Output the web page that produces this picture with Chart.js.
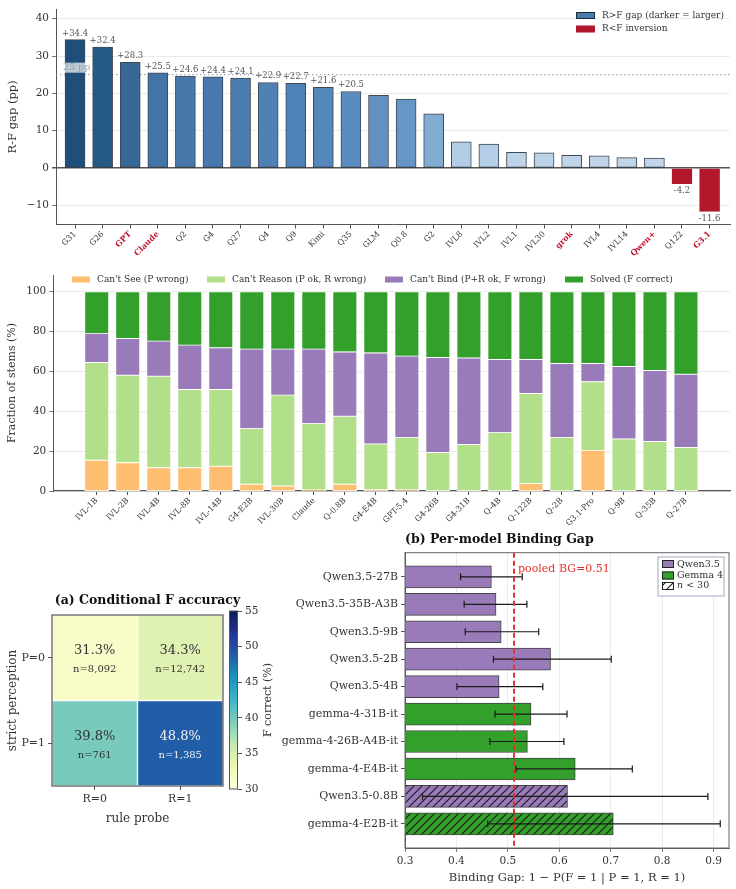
<!DOCTYPE html>
<html>
<head>
<meta charset="utf-8">
<script src="https://cdn.jsdelivr.net/npm/chart.js@4.4.1/dist/chart.umd.min.js"></script>
<style>
  body { margin: 0; background: #fff; }
  #page { position: relative; width: 736px; height: 889px; overflow: hidden; }
  canvas { position: absolute; }
</style>
</head>
<body>
<div id="page">
  <canvas id="gapChart" width="736" height="262" style="left:0;top:0"></canvas>
  <canvas id="stemChart" width="736" height="276" style="left:0;top:262px"></canvas>
  <canvas id="bgChart" width="466" height="359" style="left:270px;top:530px"></canvas>
  <canvas id="heatChart" width="250" height="245" style="left:0;top:585px"></canvas>
  <canvas id="cbarChart" width="70" height="200" style="left:226px;top:600px"></canvas>
</div>
<script>
// ---- data ----
const gapModels = ['G31', 'G26', 'GPT', 'Claude', 'Q2', 'G4', 'Q27', 'Q4', 'Q9', 'Kimi', 'Q35', 'GLM',
    'Q0.8', 'G2', 'IVL8', 'IVL2', 'IVL1', 'IVL30', 'grok', 'IVL4', 'IVL14', 'Qwen+', 'Q122', 'G3.1'];
const gapValues = [34.4, 32.4, 28.3, 25.5, 24.6, 24.4, 24.1, 22.9, 22.7, 21.6, 20.5, 19.5,
    18.5, 14.5, 7.0, 6.4, 4.2, 4.1, 3.4, 3.3, 2.8, 2.7, -4.2, -11.6];
const gapHighlighted = ['GPT', 'Claude', 'grok', 'Qwen+', 'G3.1'];
const gapThreshold = 25;
const gapTicks = [-10, 0, 10, 20, 30, 40];

const stemModels = ['IVL-1B', 'IVL-2B', 'IVL-4B', 'IVL-8B', 'IVL-14B', 'G4-E2B', 'IVL-30B', 'Claude', 'Q-0.8B', 'G4-E4B',
    'GPT-5.4', 'G4-26B', 'G4-31B', 'Q-4B', 'Q-122B', 'Q-2B', 'G3.1-Pro', 'Q-9B', 'Q-35B', 'Q-27B'];
const cantSee = [15.4, 14.2, 11.7, 11.7, 12.4, 3.4, 2.5, 0.5, 3.4, 0.8, 0.7, 0, 0, 0, 3.7, 0, 20.4, 0, 0, 0];
const cantReason = [49.1, 43.9, 45.9, 39.2, 38.5, 27.9, 45.6, 33.3, 34.1, 22.8, 26.1, 19.3, 23.3, 29.3, 45.2, 26.8, 34.4, 26.1, 24.8, 21.8];
const cantBind = [14.6, 18.4, 17.6, 22.3, 21.0, 39.9, 23.1, 37.4, 32.3, 45.7, 40.9, 47.7, 43.4, 36.7, 17.1, 37.2, 9.2, 36.4, 35.7, 36.8];
const solved = [20.9, 23.5, 24.8, 26.8, 28.1, 28.8, 28.8, 28.8, 30.2, 30.7, 32.3, 33.0, 33.3, 34.0, 34.0, 36.0, 36.0, 37.5, 39.5, 41.4];
const stemTicks = [0, 20, 40, 60, 80, 100];

const hmRows = ['P=0', 'P=1'];
const hmCols = ['R=0', 'R=1'];
const hmAcc = [[31.3, 34.3], [39.8, 48.8]];
const hmN = [[8092, 12742], [761, 1385]];
const cbarTicks = [30, 35, 40, 45, 50, 55];

const bgModels = ['Qwen3.5-27B', 'Qwen3.5-35B-A3B', 'Qwen3.5-9B', 'Qwen3.5-2B', 'Qwen3.5-4B',
    'gemma-4-31B-it', 'gemma-4-26B-A4B-it', 'gemma-4-E4B-it', 'Qwen3.5-0.8B', 'gemma-4-E2B-it'];
const bgFamily = ['qwen', 'qwen', 'qwen', 'qwen', 'qwen', 'gemma', 'gemma', 'gemma', 'qwen', 'gemma'];
const bgValues = [0.468, 0.477, 0.487, 0.583, 0.483, 0.545, 0.538, 0.631, 0.616, 0.705];
const bgLow = [0.408, 0.415, 0.417, 0.472, 0.401, 0.475, 0.465, 0.516, 0.334, 0.461];
const bgHigh = [0.528, 0.537, 0.560, 0.701, 0.568, 0.615, 0.609, 0.742, 0.889, 0.913];
const bgSmallN = [false, false, false, false, false, false, false, false, true, true];
const bgPooled = 0.512;
const bgTicks = [0.3, 0.4, 0.5, 0.6, 0.7, 0.8, 0.9];

// ---- styles ----
const FONT = 'DejaVu Serif';
const TXT = '#333';
const AXIS = '#555';
const GRID = '#e6e6e6';
const RED = '#b2182b';
const PURPLE = '#9a7bb9';
const GREEN = '#33a02c';

Chart.defaults.font.family = FONT;
Chart.defaults.color = TXT;
Chart.defaults.animation = false;
Chart.defaults.plugins.legend.display = false;
Chart.defaults.plugins.tooltip.enabled = false;

function lerpStops(stops, v) {
    if (v <= stops[0][0]) return stops[0][1];
    for (let i = 1; i < stops.length; i++) {
        if (v <= stops[i][0]) {
            const [a, ca] = stops[i - 1], [b, cb] = stops[i];
            const t = (v - a) / (b - a);
            return ca.map((c, k) => Math.round(c + (cb[k] - c) * t));
        }
    }
    return stops[stops.length - 1][1];
}
const rgb = c => `rgb(${c[0]},${c[1]},${c[2]})`;

// blues shading for the gap bars (darker = larger)
const blueStops = [[2.5, [194, 214, 234]], [7, [179, 205, 230]], [14.5, [130, 172, 210]], [18.5, [101, 150, 198]],
    [21.6, [84, 135, 187]], [24, [74, 123, 176]], [28.3, [55, 104, 150]], [32.4, [38, 90, 134]], [34.4, [31, 78, 122]]];
// YlGnBu colormap
const ylgnbu = [[0, [255, 255, 217]], [0.125, [237, 248, 177]], [0.25, [199, 233, 180]], [0.375, [127, 205, 187]],
    [0.5, [65, 182, 196]], [0.625, [29, 145, 192]], [0.75, [34, 94, 168]], [0.875, [37, 52, 148]], [1, [8, 29, 88]]];

function hatchPattern(color) {
    const c = document.createElement('canvas');
    c.width = 8; c.height = 8;
    const g = c.getContext('2d');
    g.fillStyle = color; g.fillRect(0, 0, 8, 8);
    g.strokeStyle = '#1a1a1a'; g.lineWidth = 1.1;
    g.beginPath();
    g.moveTo(-1, 9); g.lineTo(9, -1);
    g.moveTo(-1, 1); g.lineTo(1, -1);
    g.moveTo(7, 9); g.lineTo(9, 7);
    g.stroke();
    return g.createPattern(c, 'repeat');
}

function patch(ctx, x, y, w, h, fill, stroke) {
    ctx.fillStyle = fill;
    ctx.fillRect(x, y, w, h);
    if (stroke) { ctx.strokeStyle = stroke; ctx.lineWidth = 1; ctx.strokeRect(x + 0.5, y + 0.5, w - 1, h - 1); }
}

// ---- (top) R-F gap ----
const gapPlugin = {
    id: 'gapExtras',
    beforeDatasetsDraw(chart) {
        const { ctx, chartArea, scales: { y } } = chart;
        const py = y.getPixelForValue(gapThreshold);
        ctx.save();
        ctx.strokeStyle = '#8d9aa7'; ctx.lineWidth = 1; ctx.setLineDash([1.5, 2.5]);
        ctx.beginPath(); ctx.moveTo(chartArea.left, py); ctx.lineTo(chartArea.right, py); ctx.stroke();
        ctx.restore();
    },
    afterDatasetsDraw(chart) {
        const { ctx, chartArea, scales: { y } } = chart;
        const meta = chart.getDatasetMeta(0);
        ctx.save();
        ctx.font = `8.5px ${FONT}`; ctx.fillStyle = '#555'; ctx.textAlign = 'center';
        meta.data.forEach((bar, i) => {
            const v = gapValues[i];
            if (v >= 20) { ctx.textBaseline = 'bottom'; ctx.fillText('+' + v.toFixed(1), bar.x, bar.y - 2); }
            else if (v < 0) { ctx.textBaseline = 'top'; ctx.fillText(v.toFixed(1), bar.x, bar.y + 3); }
        });
        // threshold label
        const py = y.getPixelForValue(gapThreshold);
        const x0 = chartArea.left + 7;
        ctx.font = `9.5px ${FONT}`;
        const w = ctx.measureText(gapThreshold + ' pp').width;
        ctx.fillStyle = 'rgba(255,255,255,0.7)'; ctx.fillRect(x0 - 1, py - 12, w + 2, 10);
        ctx.fillStyle = '#95a3b0'; ctx.textAlign = 'left'; ctx.textBaseline = 'bottom';
        ctx.fillText(gapThreshold + ' pp', x0, py - 2.5);
        // legend
        ctx.font = `9px ${FONT}`; ctx.fillStyle = TXT; ctx.textBaseline = 'middle';
        patch(ctx, 576, 12, 19, 7, '#4a7bb0', '#1e2a36');
        ctx.fillStyle = TXT; ctx.fillText('R>F gap (darker = larger)', 602, 15.7);
        patch(ctx, 576, 25.5, 19, 7, RED);
        ctx.fillStyle = TXT; ctx.fillText('R<F inversion', 602, 29);
        ctx.restore();
    }
};

new Chart(document.getElementById('gapChart'), {
    type: 'bar',
    data: {
        datasets: [{
            data: gapValues.map((v, i) => ({ x: i, y: v })),
            backgroundColor: gapValues.map(v => v < 0 ? RED : rgb(lerpStops(blueStops, v))),
            borderColor: gapValues.map(v => v < 0 ? RED : 'rgba(30,40,50,0.85)'),
            borderWidth: 1,
            borderSkipped: false,
            barThickness: 20
        }]
    },
    options: {
        responsive: false,
        layout: { padding: { top: 7, right: 6, left: 0, bottom: 0 } },
        scales: {
            x: {
                type: 'linear', offset: false, min: -0.69, max: 23.74,
                afterBuildTicks: s => { s.ticks = gapModels.map((_, i) => ({ value: i })); },
                afterFit: s => { s.height = 37.5; },
                grid: { drawOnChartArea: false, offset: false, tickLength: 4, color: AXIS },
                border: { color: AXIS },
                ticks: {
                    autoSkip: false, minRotation: 45, maxRotation: 45, padding: 1,
                    callback: v => gapModels[v],
                    color: c => gapHighlighted.includes(gapModels[c.index]) ? '#c0142c' : TXT,
                    font: c => ({ family: FONT, size: 8, weight: gapHighlighted.includes(gapModels[c.index]) ? 'bold' : 'normal' })
                }
            },
            y: {
                min: -15.1, max: 42.5,
                afterBuildTicks: s => { s.ticks = gapTicks.map(v => ({ value: v })); },
                afterFit: s => { s.width = 56; },
                grid: {
                    color: c => c.tick && c.tick.value === 0 ? AXIS : GRID,
                    lineWidth: c => c.tick && c.tick.value === 0 ? 1.5 : 0.8,
                    tickColor: AXIS, tickLength: 4
                },
                border: { color: AXIS },
                ticks: { font: { size: 10.5 }, color: TXT, callback: v => v < 0 ? '\u2212' + Math.abs(v) : v },
                title: { display: true, text: 'R-F gap (pp)', font: { size: 11.5 }, padding: { top: 6, bottom: 2 } }
            }
        }
    },
    plugins: [gapPlugin]
});

// ---- (middle) failure decomposition ----
const stemLegend = {
    id: 'stemLegend',
    afterDraw(chart) {
        const ctx = chart.ctx;
        const items = [['Can\'t See (P wrong)', '#fdbf6f', 72, 97], ['Can\'t Reason (P ok, R wrong)', '#b2df8a', 207, 232],
            ['Can\'t Bind (P+R ok, F wrong)', PURPLE, 385, 410], ['Solved (F correct)', GREEN, 565, 590]];
        ctx.save();
        ctx.font = `9px ${FONT}`; ctx.textBaseline = 'middle'; ctx.textAlign = 'left';
        items.forEach(([label, color, px, tx]) => {
            patch(ctx, px, 14.5, 18, 6, color);
            ctx.fillStyle = TXT; ctx.fillText(label, tx, 17.5);
        });
        ctx.restore();
    }
};

const stemSeries = [[cantSee, '#fdbf6f'], [cantReason, '#b2df8a'], [cantBind, PURPLE], [solved, GREEN]];
new Chart(document.getElementById('stemChart'), {
    type: 'bar',
    data: {
        datasets: stemSeries.map(([arr, color]) => ({
            data: arr.map((v, i) => ({ x: i, y: v })),
            backgroundColor: color,
            borderColor: '#fff',
            borderWidth: 0.8,
            borderSkipped: false,
            barThickness: 24
        }))
    },
    options: {
        responsive: false,
        layout: { padding: { top: 13, right: 6, left: 0, bottom: 0 } },
        scales: {
            x: {
                type: 'linear', offset: false, stacked: true, min: -1.4, max: 20.42,
                afterBuildTicks: s => { s.ticks = stemModels.map((_, i) => ({ value: i })); },
                afterFit: s => { s.height = 47; },
                grid: { drawOnChartArea: false, offset: false, tickLength: 4, color: AXIS },
                border: { color: AXIS, width: 1.2 },
                ticks: { autoSkip: false, minRotation: 45, maxRotation: 45, padding: 1, font: { size: 8 }, color: TXT, callback: v => stemModels[v] }
            },
            y: {
                stacked: true, min: 0, max: 108.4,
                afterBuildTicks: s => { s.ticks = stemTicks.map(v => ({ value: v })); },
                afterFit: s => { s.width = 53.3; },
                grid: { color: GRID, lineWidth: 0.8, tickColor: AXIS, tickLength: 4 },
                border: { color: AXIS },
                ticks: { font: { size: 10.5 }, color: TXT },
                title: { display: true, text: 'Fraction of stems (%)', font: { size: 11 }, padding: { top: 6, bottom: 2 } }
            }
        }
    },
    plugins: [stemLegend]
});

// ---- (a) conditional accuracy heatmap ----
const heatText = {
    id: 'heatText',
    afterDraw(chart) {
        const { ctx, chartArea, scales: { x, y } } = chart;
        ctx.save();
        ctx.textAlign = 'center'; ctx.textBaseline = 'middle';
        hmAcc.forEach((row, r) => row.forEach((v, c) => {
            const cx = x.getPixelForValue(c);
            const cy = (y.getPixelForValue(r) + y.getPixelForValue(r + 1)) / 2;
            ctx.fillStyle = v > 45 ? '#f2f2f2' : TXT;
            ctx.font = `13px ${FONT}`;
            ctx.fillText(v.toFixed(1) + '%', cx, cy - 7);
            ctx.font = `10px ${FONT}`;
            ctx.fillText('n=' + hmN[r][c].toLocaleString('en-US'), cx, cy + 12);
        }));
        ctx.strokeStyle = AXIS; ctx.lineWidth = 1.2;
        ctx.strokeRect(chartArea.left, chartArea.top, chartArea.right - chartArea.left, chartArea.bottom - chartArea.top);
        ctx.font = `bold 12.5px ${FONT}`; ctx.fillStyle = '#111';
        ctx.fillText('(a) Conditional F accuracy', 147.5, 16);
        ctx.restore();
    }
};

new Chart(document.getElementById('heatChart'), {
    type: 'bar',
    data: {
        labels: hmCols,
        datasets: hmAcc.map((row, r) => ({
            data: row.map(() => [r, r + 1]),
            backgroundColor: row.map(v => rgb(lerpStops(ylgnbu, (v - 30) / 25))),
            borderColor: '#fff',
            borderWidth: 1,
            borderSkipped: false,
            grouped: false,
            barPercentage: 1,
            categoryPercentage: 1
        }))
    },
    options: {
        responsive: false,
        layout: { padding: { top: 30, right: 27, left: 0, bottom: 0 } },
        scales: {
            x: {
                afterFit: s => { s.height = 44; },
                grid: { drawOnChartArea: false, offset: false, tickLength: 4, color: AXIS },
                border: { display: false },
                ticks: { font: { size: 11 }, color: TXT },
                title: { display: true, text: 'rule probe', font: { size: 12 }, padding: { top: 2, bottom: 4 } }
            },
            y: {
                type: 'linear', offset: false, reverse: true, min: 0, max: 2,
                afterBuildTicks: s => { s.ticks = hmRows.map((_, i) => ({ value: i + 0.5 })); },
                afterFit: s => { s.width = 52; },
                grid: { drawOnChartArea: false, tickLength: 4, color: AXIS },
                border: { display: false },
                ticks: { font: { size: 11 }, color: TXT, callback: (v, i) => hmRows[i] },
                title: { display: true, text: 'strict perception', font: { size: 12 }, padding: { top: 6, bottom: 2 } }
            }
        }
    },
    plugins: [heatText]
});

// colorbar
new Chart(document.getElementById('cbarChart'), {
    type: 'bar',
    data: {
        labels: [''],
        datasets: [{
            data: [[cbarTicks[0], cbarTicks[cbarTicks.length - 1]]],
            backgroundColor: c => {
                const ca = c.chart.chartArea;
                if (!ca) return '#fff';
                const g = c.chart.ctx.createLinearGradient(0, ca.bottom, 0, ca.top);
                ylgnbu.forEach(([t, col]) => g.addColorStop(t, rgb(col)));
                return g;
            },
            borderWidth: 0,
            barPercentage: 1,
            categoryPercentage: 1
        }]
    },
    options: {
        responsive: false,
        layout: { padding: { top: 11, right: 17.4, left: 3, bottom: 11 } },
        scales: {
            x: { display: false },
            y: {
                position: 'right', min: 30, max: 55,
                afterBuildTicks: s => { s.ticks = cbarTicks.map(v => ({ value: v })); },
                afterFit: s => { s.width = 40.6; },
                grid: { drawOnChartArea: false, tickLength: 4, color: AXIS },
                border: { display: false },
                ticks: { font: { size: 10.5 }, color: TXT, padding: 3 }
            }
        }
    },
    plugins: [{
        id: 'cbarFrame',
        afterDraw(chart) {
            const { ctx, chartArea: a } = chart;
            ctx.save(); ctx.strokeStyle = AXIS; ctx.lineWidth = 1;
            ctx.strokeRect(a.left + 0.5, a.top, a.right - a.left - 1, a.bottom - a.top);
            // label reads bottom to top
            ctx.translate(42, (a.top + a.bottom) / 2);
            ctx.rotate(-Math.PI / 2);
            ctx.font = `11px ${FONT}`; ctx.fillStyle = TXT; ctx.textAlign = 'center'; ctx.textBaseline = 'middle';
            ctx.fillText('F correct (%)', 0, 0);
            ctx.restore();
        }
    }]
});

// ---- (b) per-model binding gap ----
const famColor = { qwen: PURPLE, gemma: GREEN };
const bgPlugin = {
    id: 'bgExtras',
    afterDatasetsDraw(chart) {
        const { ctx, chartArea: a, scales: { x, y } } = chart;
        ctx.save();
        // error bars
        ctx.strokeStyle = '#1a1a1a'; ctx.lineWidth = 1.2;
        bgModels.forEach((_, i) => {
            const py = y.getPixelForValue(i);
            const x1 = x.getPixelForValue(bgLow[i]), x2 = x.getPixelForValue(bgHigh[i]);
            ctx.beginPath();
            ctx.moveTo(x1, py); ctx.lineTo(x2, py);
            ctx.moveTo(x1, py - 3.5); ctx.lineTo(x1, py + 3.5);
            ctx.moveTo(x2, py - 3.5); ctx.lineTo(x2, py + 3.5);
            ctx.stroke();
        });
        // pooled line
        const px = x.getPixelForValue(bgPooled);
        ctx.strokeStyle = '#e8302a'; ctx.lineWidth = 2; ctx.setLineDash([5, 3]);
        ctx.beginPath(); ctx.moveTo(px, a.top); ctx.lineTo(px, a.bottom); ctx.stroke();
        ctx.setLineDash([]);
        ctx.fillStyle = '#e8302a'; ctx.font = `11px ${FONT}`; ctx.textAlign = 'left'; ctx.textBaseline = 'middle';
        ctx.fillText('pooled BG=' + bgPooled.toFixed(2), px + 4, 39.5);
        // frame
        ctx.strokeStyle = '#666'; ctx.lineWidth = 1;
        ctx.strokeRect(a.left, a.top, a.right - a.left, a.bottom - a.top);
        // legend
        const lx = a.right - 71;
        ctx.fillStyle = 'rgba(255,255,255,0.92)'; ctx.fillRect(lx, 27, 66, 39);
        ctx.strokeStyle = '#aeb8cc'; ctx.lineWidth = 1.2; ctx.strokeRect(lx, 27, 66, 39);
        patch(ctx, lx + 4, 30, 12, 8, PURPLE, '#222');
        patch(ctx, lx + 4, 41.5, 12, 8, GREEN, '#222');
        patch(ctx, lx + 4, 52, 12, 8, hatchPattern('#fff'), '#222');
        ctx.fillStyle = TXT; ctx.font = `9.5px ${FONT}`;
        ctx.fillText('Qwen3.5', lx + 19, 34.3);
        ctx.fillText('Gemma 4', lx + 19, 45.7);
        ctx.font = `italic 9.5px ${FONT}`; ctx.fillText('n', lx + 19, 56);
        const nw = ctx.measureText('n').width;
        ctx.font = `9.5px ${FONT}`; ctx.fillText(' < 30', lx + 19 + nw, 56);
        // title
        ctx.fillStyle = '#111'; ctx.font = `bold 12.5px ${FONT}`; ctx.textAlign = 'left';
        ctx.fillText('(b) Per-model Binding Gap', a.left, 10);
        ctx.restore();
    }
};

new Chart(document.getElementById('bgChart'), {
    type: 'bar',
    data: {
        datasets: [{
            data: bgValues.map((v, i) => ({ x: v, y: i })),
            backgroundColor: bgFamily.map((f, i) => bgSmallN[i] ? hatchPattern(famColor[f]) : famColor[f]),
            borderColor: 'rgba(35,35,35,0.85)',
            borderWidth: 1,
            borderSkipped: 'start',
            barThickness: 22
        }]
    },
    options: {
        indexAxis: 'y',
        responsive: false,
        layout: { padding: { top: 22.7, right: 7, left: 0, bottom: 0 } },
        scales: {
            x: {
                type: 'linear', min: 0.3, max: 0.93,
                afterBuildTicks: s => { s.ticks = bgTicks.map(v => ({ value: v })); },
                afterFit: s => { s.height = 41; },
                grid: { color: GRID, lineWidth: 0.8, tickColor: AXIS, tickLength: 4 },
                border: { color: AXIS },
                ticks: { font: { size: 10.5 }, color: TXT, callback: v => v.toFixed(1) },
                title: { display: true, text: 'Binding Gap: 1 \u2212 P(F = 1 | P = 1, R = 1)', font: { size: 11.5 }, padding: { top: 2, bottom: 4 } }
            },
            y: {
                type: 'linear', offset: false, reverse: true, min: -0.88, max: 9.88,
                afterBuildTicks: s => { s.ticks = bgModels.map((_, i) => ({ value: i })); },
                afterFit: s => { s.width = 135; },
                grid: { drawOnChartArea: false, offset: false, tickLength: 4, color: AXIS },
                border: { color: AXIS },
                ticks: { font: { size: 11 }, color: TXT, callback: v => bgModels[v] }
            }
        }
    },
    plugins: [bgPlugin]
});
</script>
</body>
</html>
